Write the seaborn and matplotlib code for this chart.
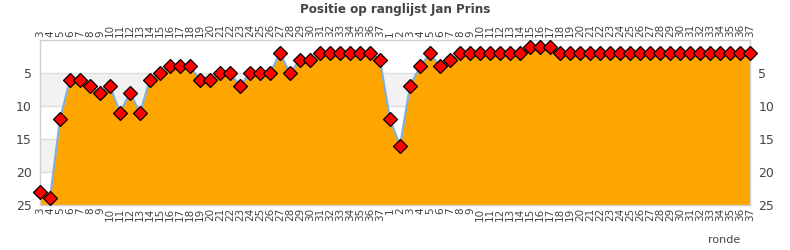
import matplotlib
matplotlib.use("Agg")
import matplotlib.pyplot as plt
import seaborn as sns
import pandas as pd
import numpy as np

rounds = [str(r) for r in range(3, 38)] + [str(r) for r in range(1, 38)]
positions = [23, 24, 12, 6, 6, 7, 8, 7, 11, 8, 11, 6, 5, 4, 4, 4, 6, 6, 5, 5,
             7, 5, 5, 5, 2, 5, 3, 3, 2, 2, 2, 2, 2, 2, 3,
             12, 16, 7, 4, 2, 4, 3, 2, 2, 2, 2, 2, 2, 2, 1, 1, 1,
             2, 2, 2, 2, 2, 2, 2, 2, 2, 2, 2, 2, 2, 2, 2, 2, 2, 2, 2, 2]
yticks = [5, 10, 15, 20, 25]

df = pd.DataFrame({"i": np.arange(len(rounds)), "pos": positions})

fig = plt.figure(figsize=(7.9, 2.5), dpi=100)
ax = fig.add_axes([40/790, 45/250, 710/790, 165/250])

# background bands
for lo, hi in [(5, 10), (15, 20)]:
    ax.axhspan(lo, hi, color="#f2f2f2", zorder=0, lw=0)
for y in [5, 10, 15, 20]:
    ax.axhline(y, color="#dddddd", lw=1, zorder=0.5)

ax.fill_between(df["i"], df["pos"], 25, color="#FFA500", zorder=1, lw=0)
sns.lineplot(data=df, x="i", y="pos", ax=ax, color="#7fb0e0", lw=1.5,
             marker="D", markersize=7, markerfacecolor="red",
             markeredgecolor="black", markeredgewidth=0.9, zorder=3,
             clip_on=False)

ax.set_xlim(0, len(rounds) - 1)
ax.set_ylim(25, 0)
ax.set_xticks(df["i"])
ax.set_xticklabels(rounds, rotation=90, fontsize=7.5, color="#444444")
ax.tick_params(axis="x", length=0, pad=2, top=True, labeltop=True)
ax.set_yticks(yticks)
ax.set_yticklabels([str(v) for v in yticks], fontsize=9, color="#444444")
ax.tick_params(axis="y", length=0, pad=6, right=True, labelright=True)
for s in ax.spines.values():
    s.set_color("#d0d0d0")
    s.set_linewidth(1)
ax.set_xlabel("")
ax.set_ylabel("")
fig.text(740/790, 10/250, "ronde", fontsize=8, color="#444444", ha="right", va="center")
fig.text(395/790, 241/250, "Positie op ranglijst Jan Prins", fontsize=9.5,
         fontweight="bold", color="#444444", ha="center", va="center",
         fontstretch="condensed", family="DejaVu Sans")
fig.savefig("out.png", dpi=100)
